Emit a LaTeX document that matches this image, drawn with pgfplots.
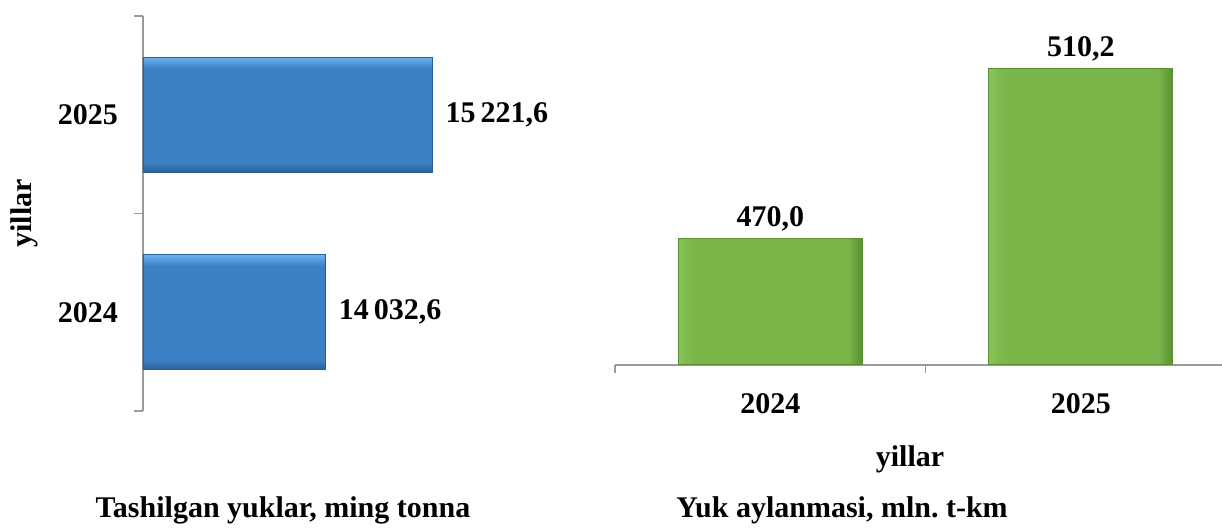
\documentclass[border=0pt]{standalone}
\usepackage{pgfplots}
\pgfplotsset{compat=1.18}
\usepackage{fontspec}
\setmainfont{Liberation Serif}
\definecolor{axisgray}{HTML}{9A9A9A}
\definecolor{bluemain}{HTML}{3B7FC4}
\definecolor{bluelight}{HTML}{6AB2F0}
\definecolor{bluedark}{HTML}{2C5F95}
\definecolor{greenmain}{HTML}{7AB64A}
\definecolor{greenlight}{HTML}{A9E37F}
\definecolor{greendark}{HTML}{5B8F33}
\pgfdeclareverticalshading{bluebevel}{100bp}{color(0bp)=(bluedark); color(25bp)=(bluedark); color(29bp)=(bluemain); color(70bp)=(bluemain); color(75bp)=(bluelight); color(100bp)=(bluelight)}
\pgfdeclarehorizontalshading{greenbevel}{100bp}{color(0bp)=(greenmain!70!greenlight); color(25bp)=(greenmain!70!greenlight); color(29bp)=(greenmain); color(71bp)=(greenmain); color(75bp)=(greendark); color(100bp)=(greendark)}
\newcommand{\lblfont}{\fontsize{15}{18}\selectfont\bfseries}
\begin{document}
\frenchspacing
\begin{tikzpicture}[font=\lblfont]
% left chart
\begin{axis}[
  at={(71.5pt,59.5pt)}, anchor=south west,
  scale only axis, width=224.5pt, height=197.5pt,
  font=\lblfont,
  xmin=12000, xmax=17000, ymin=-0.5, ymax=1.5,
  axis y line*=left, axis x line=none,
  xtick=\empty,
  ytick={0,1}, yticklabels={2024,2025},
  minor ytick={-0.5,0.5,1.5},
  major tick length=0pt, minor tick length=4.5pt, tick align=outside,
  tick style={draw=axisgray, line width=0.8pt},
  axis line style={draw=axisgray, line width=0.8pt},
  yticklabel style={font=\lblfont, xshift=-9pt},
  ylabel={yillar},
  ylabel style={at={(rel axis cs:0,0.5)}, anchor=base, yshift=55.5pt, font=\lblfont},
  xbar, bar width=57.5pt,
  nodes near coords, point meta=explicit symbolic,
  every node near coord/.append style={font=\lblfont, text=black, anchor=west, xshift=3pt},
]
\addplot[draw=bluedark, line width=0.6pt, shade, shading=bluebevel, bar shift=0pt] coordinates {(14032.6,0) [14\,032,6]};
\addplot[draw=bluedark, line width=0.6pt, shade, shading=bluebevel, bar shift=0pt] coordinates {(15221.6,1) [15\,221,6]};
\end{axis}
% right chart
\begin{axis}[
  at={(307.5pt,82.5pt)}, anchor=south west,
  scale only axis, width=310.5pt, height=168.75pt,
  font=\lblfont,
  xmin=-0.5, xmax=1.5, ymin=440, ymax=520,
  axis x line*=bottom, axis y line=none,
  ytick=\empty,
  xtick={0,1}, xticklabels={2024,2025},
  minor xtick={-0.5,0.5,1.5},
  major tick length=0pt, minor tick length=4pt, tick align=outside,
  tick style={draw=axisgray, line width=0.8pt},
  axis line style={draw=axisgray, line width=0.8pt},
  xticklabel style={font=\lblfont, yshift=-10.5pt},
  xlabel={yillar},
  xlabel style={at={(rel axis cs:0.5,0)}, anchor=base, yshift=-51pt, xshift=-7.75pt, font=\lblfont},
  ybar, bar width=92pt,
  nodes near coords, point meta=explicit symbolic,
  every node near coord/.append style={font=\lblfont, text=black},
]
\addplot[draw=greendark, line width=0.6pt, shade, shading=greenbevel, bar shift=0pt] coordinates {(0,470.0) [470,0]};
\addplot[draw=greendark, line width=0.6pt, shade, shading=greenbevel, bar shift=0pt] coordinates {(1,510.2) [510,2]};
\end{axis}
\node[anchor=base] at (141.5pt,6pt) {Tashilgan yuklar, ming tonna};
\node[anchor=base] at (421pt,6pt) {Yuk aylanmasi, mln. t-km};
\pgfresetboundingbox
\path (0,0) rectangle (611pt,265pt);
\end{tikzpicture}
\end{document}
